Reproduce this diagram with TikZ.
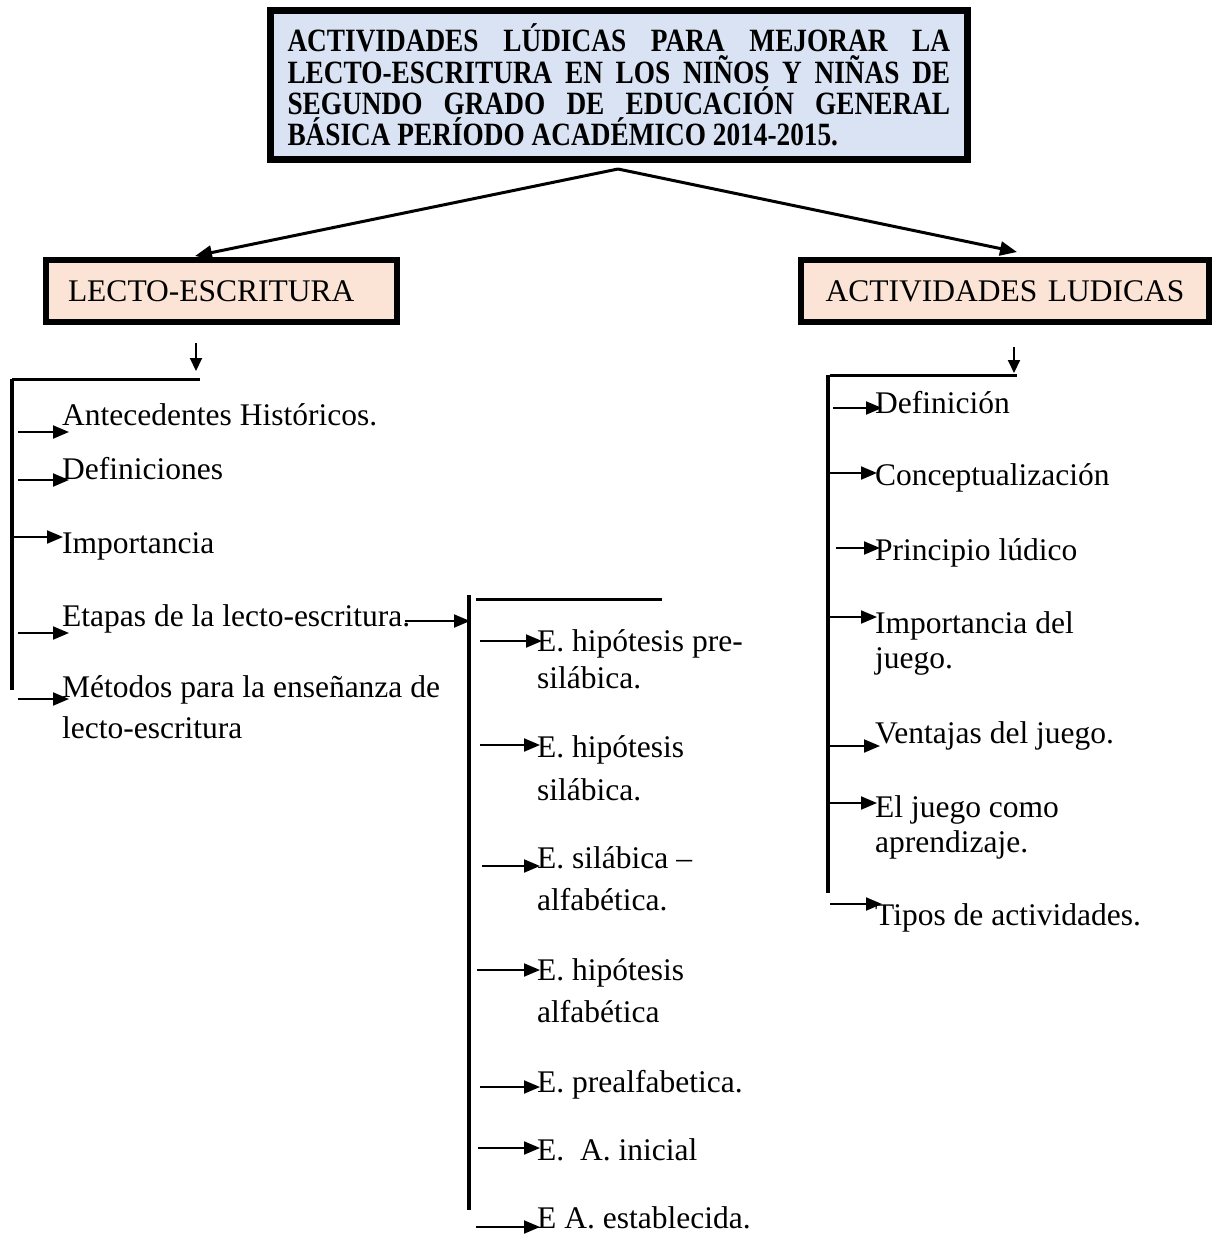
\documentclass[tikz,border=0pt]{standalone}
\usepackage{fontspec}
\setmainfont{Liberation Serif}[BoldFont={Liberation Serif Bold}]
\usetikzlibrary{arrows.meta}
\lineskiplimit=-100pt
\definecolor{titlefill}{HTML}{DAE3F3}
\definecolor{peachfill}{HTML}{FBE4D5}
\newcommand{\tline}[1]{\scalebox{0.84}[1]{\makebox[789pt][s]{#1}}}
\begin{document}
\begin{tikzpicture}[x=1pt,y=-1pt,
  titlebox/.style={draw, line width=7pt, fill=titlefill, text width=663pt, inner xsep=17pt,
    minimum height=149pt, align=flush left,
    font=\bfseries\fontsize{32.5}{31.3}\selectfont},
  catbox/.style={draw, line width=6pt, fill=peachfill, minimum height=62pt, inner xsep=22pt,
    font=\fontsize{31.5}{38}\selectfont},
  itemtxt/.style={anchor=base west, inner sep=0pt, font=\fontsize{31.5}{42}\selectfont},
  multitxt/.style={anchor=base west, inner sep=0pt, text width=440pt, align=flush left,
    font=\fontsize{31.5}{#1}\selectfont},
  bigarrow/.style={line width=3pt, -{Triangle[length=17pt,width=14pt]}},
  downarrow/.style={line width=2pt, -{Triangle[length=13pt,width=12pt]}},
  sarrow/.style={line width=2pt, -{Triangle[length=16pt,width=13pt]}},
  barline/.style={line width=4pt},
  topline/.style={line width=3pt}
]
\useasboundingbox (0,0) rectangle (1214,1235);

% title
\node[titlebox] (title) at (619,85) {%
\tline{ACTIVIDADES LÚDICAS PARA MEJORAR LA}\\
\tline{LECTO-ESCRITURA EN LOS NIÑOS Y NIÑAS DE}\\
\tline{SEGUNDO GRADO DE EDUCACIÓN GENERAL}\\
\scalebox{0.84}[1]{BÁSICA PERÍODO ACADÉMICO 2014-2015.}};

% category boxes
\node[catbox, text width=307pt, align=flush left] (lecto) at (221.5,291) {LECTO-ESCRITURA};
\node[catbox, text width=364pt, align=center] (activ) at (1005,291) {ACTIVIDADES LUDICAS};

% top connectors
\coordinate (apex) at (618,169);
\coordinate (lectotop) at (195,256);
\coordinate (activtop) at (1017,252);
\draw[bigarrow] (apex) -- (lectotop);
\draw[bigarrow] (apex) -- (activtop);

% ---------- left branch ----------
\coordinate (ldA) at (196,343);
\coordinate (ldB) at (196,371);
\draw[downarrow] (ldA) -- (ldB);
\coordinate (lh1) at (12,379);
\coordinate (lh2) at (200,379);
\coordinate (lv2) at (12,690);
\draw[topline] (lh1) -- (lh2);
\draw[barline] (lh1) -- (lv2);

\node[itemtxt] (anteced) at (62,425) {Antecedentes Históricos.};
\node[itemtxt] (defs) at (62,479) {Definiciones};
\node[itemtxt] (impo) at (62,553) {Importancia};
\node[itemtxt] (etapas) at (62,626) {Etapas de la lecto-escritura.};
\node[multitxt=41] (metodos) at (62,697) {Métodos para la enseñanza de\\lecto-escritura};

\foreach \n/\xa/\xb/\y in {la1/18/69/432, la2/18/69/480, la3/13/63/537, la4/18/69/633, la5/18/69/699}{
  \coordinate (\n-s) at (\xa,\y);
  \coordinate (\n-e) at (\xb,\y);
  \draw[sarrow] (\n-s) -- (\n-e);
}

% etapas -> sub branch
\coordinate (etA) at (405,621);
\coordinate (etB) at (470,621);
\draw[sarrow] (etA) -- (etB);

% ---------- middle branch ----------
\coordinate (mh1) at (476,599);
\coordinate (mh2) at (662,599);
\coordinate (mv1) at (469,595);
\coordinate (mv2) at (469,1210);
\draw[topline] (mh1) -- (mh2);
\draw[barline] (mv1) -- (mv2);

\node[multitxt=37] (s1) at (537,651) {E. hipótesis pre-\\silábica.};
\node[multitxt=43] (s2) at (537,757) {E. hipótesis\\silábica.};
\node[multitxt=42] (s3) at (537,868) {E. silábica –\\alfabética.};
\node[multitxt=42] (s4) at (537,980) {E. hipótesis\\alfabética};
\node[itemtxt] (s5) at (537,1092) {E. prealfabetica.};
\node[itemtxt] (s6) at (537,1160) {E.\ \ A. inicial};
\node[itemtxt] (s7) at (537,1228) {E A. establecida.};

\foreach \n/\xa/\xb/\y in {ma1/480/542/641, ma2/480/540/745, ma3/482/540/866, ma4/477/540/970,
  ma5/480/540/1087, ma6/478/540/1148, ma7/476/540/1227}{
  \coordinate (\n-s) at (\xa,\y);
  \coordinate (\n-e) at (\xb,\y);
  \draw[sarrow] (\n-s) -- (\n-e);
}

% ---------- right branch ----------
\coordinate (rdA) at (1014,347);
\coordinate (rdB) at (1014,373);
\draw[downarrow] (rdA) -- (rdB);
\coordinate (rh1) at (830,375);
\coordinate (rh2) at (1017,375);
\coordinate (rv1) at (828,375);
\coordinate (rv2) at (828,893);
\draw[topline] (rh1) -- (rh2);
\draw[barline] (rv1) -- (rv2);

\node[itemtxt] (rdef) at (875,413) {Definición};
\node[itemtxt] (rconc) at (875,485) {Conceptualización};
\node[itemtxt] (rprin) at (875,560) {Principio lúdico};
\node[multitxt=35] (rimp) at (875,633) {Importancia del\\juego.};
\node[itemtxt] (rvent) at (875,743) {Ventajas del juego.};
\node[multitxt=35] (rjueg) at (875,817) {El juego como\\aprendizaje.};
\node[itemtxt] (rtipos) at (875,925) {Tipos de actividades.};

\foreach \n/\xa/\xb/\y in {ra1/833/882/408, ra2/828/877/473, ra3/836/880/548, ra4/828/877/617,
  ra5/828/880/746, ra6/828/877/803, ra7/830/882/904}{
  \coordinate (\n-s) at (\xa,\y);
  \coordinate (\n-e) at (\xb,\y);
  \draw[sarrow] (\n-s) -- (\n-e);
}
\end{tikzpicture}
\end{document}
